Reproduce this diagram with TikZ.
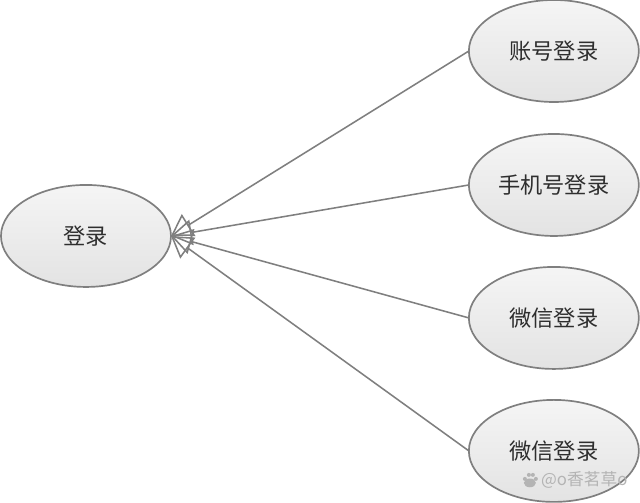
\documentclass[tikz,border=0pt]{standalone}
\usepackage{fontspec}
\newfontfamily\cjk{Noto Sans CJK SC}
\usetikzlibrary{positioning,shapes.geometric,arrows.meta}

\definecolor{linegray}{HTML}{7F7F7F}
\definecolor{textgray}{HTML}{2E2E2E}
\definecolor{markgray}{HTML}{B4B4B4}
\tikzset{
  usecase/.style={ellipse, draw=linegray, line width=1.2pt, top color=white!96!black, bottom color=white!89!black,
    minimum width=4.25cm, minimum height=2.55cm, inner sep=0pt, outer sep=0pt,
    text=textgray, font=\cjk\fontsize{15.8pt}{18pt}\selectfont},
  extends/.style={draw=linegray, line width=1.1pt, {Triangle[open, length=0.52cm, width=0.64cm, line width=1.1pt]}-},
  mark text/.style={text=markgray, font=\cjk\fontsize{11.9pt}{14pt}\selectfont, inner sep=0pt}
}

\begin{document}
\begin{tikzpicture}
\def\dx{0.025}
\def\xa{86 * \dx};
\def\xb{554 * \dx};

\def\ya{-236 * \dx};
\def\yb{-51 * \dx};
\def\yc{-185 * \dx};
\def\yd{-318 * \dx};
\def\ye{-451 * \dx};

\useasboundingbox (0,0) rectangle (16,-12.55);

\node[usecase] (login) at ({\xa}, {\ya}) {登录};
\node[usecase] (account) at ({\xb}, {\yb}) {账号登录};
\node[usecase] (phone) at ({\xb}, {\yc}) {手机号登录};
\node[usecase] (wechata) at ({\xb}, {\yd}) {微信登录};
\node[usecase] (wechatb) at ({\xb}, {\ye}) {微信登录};

\draw[extends] (login.east) -- (account.west);
\draw[extends] (login.east) -- (phone.west);
\draw[extends] (login.east) -- (wechata.west);
\draw[extends] (login.east) -- (wechatb.west);

% paw
\fill[markgray] ({530 * \dx}, {-483 * \dx}) ellipse (0.15 and 0.11);
\foreach \px/\py in {525/479, 529/475, 533/475, 536/479}
  \fill[markgray] ({\px * \dx}, {-\py * \dx}) circle (0.05);

\node[mark text, anchor=west] (mark) at ({541 * \dx}, {-480 * \dx}) {@o香茗草o};
\end{tikzpicture}
\end{document}
